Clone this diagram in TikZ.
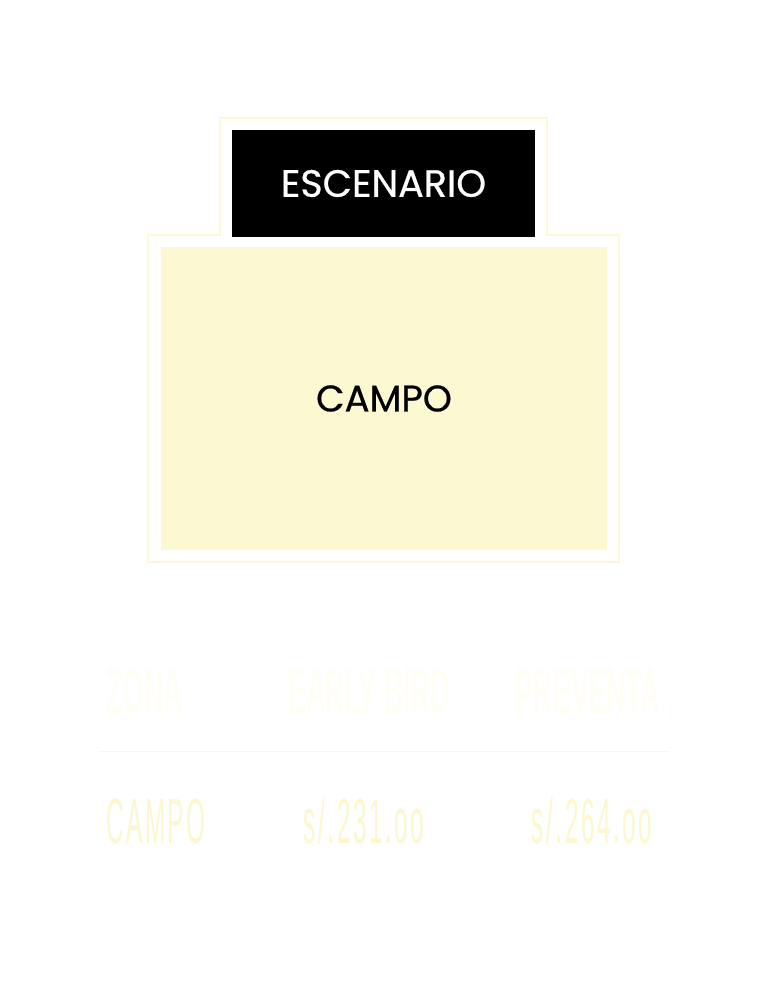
\documentclass[tikz,border=0pt]{standalone}
\usepackage{fontspec}
\usepackage{xcolor}
\usepackage{tikz}
\setmainfont{Poppins}[FakeBold=0.6]
\newfontfamily\headfont[FakeStretch=0.42]{Liberation Sans Bold}
\newfontfamily\pricefont[FakeStretch=0.38, LetterSpace=4]{Liberation Sans}
\definecolor{campoyellow}{HTML}{FCF9D2}
\definecolor{framey}{HTML}{FDF9D8}
\definecolor{headwhite}{HTML}{FFFEF5}
\definecolor{pricey}{HTML}{FCF7CE}

\begin{document}
\begin{tikzpicture}[x=1pt, y=-1pt]
\tikzstyle{stagebox}=[rectangle, fill=black, text=white, minimum width=303pt, minimum height=107pt, inner sep=0pt, font=\fontsize{38}{38}\selectfont]
\tikzstyle{zonebox}=[rectangle, fill=campoyellow, text=black, minimum width=446pt, minimum height=303pt, inner sep=0pt, font=\fontsize{37}{37}\selectfont]
\tikzstyle{head}=[anchor=base, inner sep=0pt, text=headwhite, font=\headfont\fontsize{64}{64}\selectfont]
\tikzstyle{price}=[anchor=base, inner sep=0pt, text=pricey, font=\pricefont\fontsize{64}{64}\selectfont]
\useasboundingbox[fill=white] (0,0) rectangle (768,995);

% frame round stage and field
\draw[framey, line width=1.5pt] (148,235) -- (220,235) -- (220,118) -- (547,118)
  -- (547,235) -- (619,235) -- (619,562) -- (148,562) -- cycle;

\node[stagebox] (escenario) at (383.5,183.5) {ESCENARIO};
\node[zonebox] (campo) at (384,398.5) {CAMPO};

% price table
\node[head] (zona) at (145,713) {ZONA};
\node[head] (early) at (369,713) {EARLY BIRD};
\node[head] (preventa) at (588,713) {PREVENTA};

\coordinate (rulel) at (98,751);
\coordinate (ruler) at (670,751);
\draw[framey, line width=1pt] (rulel) -- (ruler);

\node[price] (zcampo) at (156,843) {CAMPO};
\node[price] (pearly) at (364,843) {s/.231.oo};
\node[price] (ppreventa) at (592,843) {s/.264.oo};

\end{tikzpicture}
\end{document}
